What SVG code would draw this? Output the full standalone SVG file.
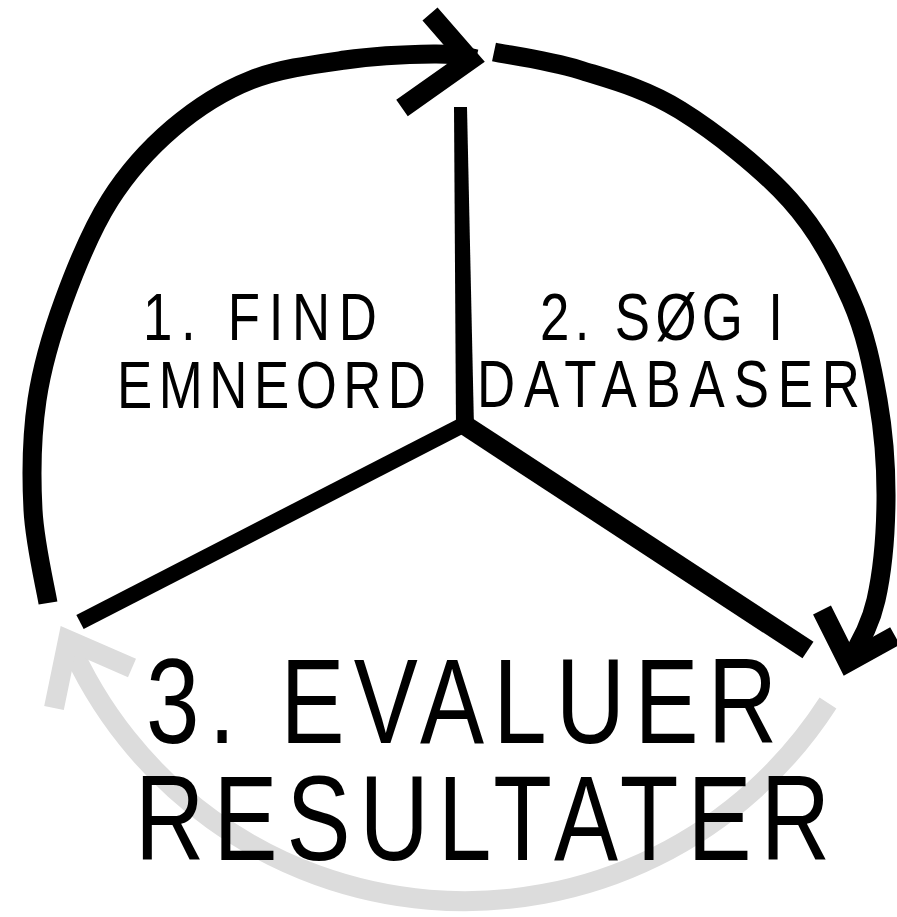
<svg xmlns="http://www.w3.org/2000/svg" width="897" height="917" viewBox="0 0 897 917">
<style>
.arc{fill:none;stroke:#000;stroke-width:19;stroke-linecap:butt;stroke-linejoin:round}
.head{fill:none;stroke:#000;stroke-width:20;stroke-linecap:butt;stroke-linejoin:miter;stroke-miterlimit:6}
.gray{fill:none;stroke:#dcdcdc;stroke-width:20;stroke-linecap:butt;stroke-linejoin:miter;stroke-miterlimit:6}
.spoke{fill:none;stroke:#000;stroke-linecap:butt;stroke-linejoin:round}
.t{font-family:"Liberation Sans",Arial,sans-serif;fill:#000}
.s{font-size:66px}
.b{font-size:120px}
</style>
<rect width="897" height="917" fill="#fff"/>
<g id="connectors">
<path id="arc-left" class="arc" d="M48 603 C45.5 587.5 34.8 543.8 33 510 C31.2 476.2 31.8 435 37 400 C42.2 365 51.8 333.3 64 300 C76.2 266.7 91.8 228.7 110 200 C128.2 171.3 149.5 148 173 128 C196.5 108 222.3 91.3 251 80 C279.7 68.7 314.5 64.3 345 60 C375.5 55.7 411.2 54.3 434 54 C456.8 53.7 468 57 476 59"/>
<polyline class="head" points="430,14 470,60 402,108"/>
<path id="arc-right" class="arc" d="M494 52 C508.3 55 549 60.3 580 70 C611 79.7 645 88.3 680 110 C715 131.7 761.5 168.3 790 200 C818.5 231.7 836.3 266.7 851 300 C865.7 333.3 872.2 366.7 878 400 C883.8 433.3 886.3 466.7 886 500 C885.7 533.3 882.3 572 876 600 C869.7 628 856 650 848 662"/>
<polyline class="head" points="822,610 848,662 895,636"/>
<path id="arc-gray" class="gray" d="M828 703 A432 432 0 0 1 68 640"/>
<polyline class="gray" points="132,668 68,640 54,708"/>
</g>
<g id="spokes">
<polygon id="spoke-top" points="454,107 467,107 474,428 456,428" fill="#000"/>
<path id="spoke-left" class="spoke" stroke-width="16" d="M465 424 L80 622"/>
<path id="spoke-right" class="spoke" stroke-width="20" d="M463 424 L808 650"/>
</g>
<g id="node-1">
<text class="t s" transform="scale(0.8,1)" x="178.75" y="340" textLength="292.5" lengthAdjust="spacing">1. FIND</text>
<text class="t s" transform="scale(0.8,1)" x="146.25" y="408" textLength="386.25" lengthAdjust="spacing">EMNEORD</text>
</g>
<g id="node-2">
<text class="t s" transform="scale(0.8,1)" x="675" y="340" textLength="303.75" lengthAdjust="spacing">2. SØG I</text>
<text class="t s" transform="scale(0.8,1)" x="596.25" y="407" textLength="478.75" lengthAdjust="spacing">DATABASER</text>
</g>
<g id="node-3">
<text class="t b" transform="scale(0.8,1)" x="182.5" y="743" textLength="788.75" lengthAdjust="spacing">3. EVALUER</text>
<text class="t b" transform="scale(0.8,1)" x="168.75" y="860" textLength="868.75" lengthAdjust="spacing">RESULTATER</text>
</g>
</svg>
